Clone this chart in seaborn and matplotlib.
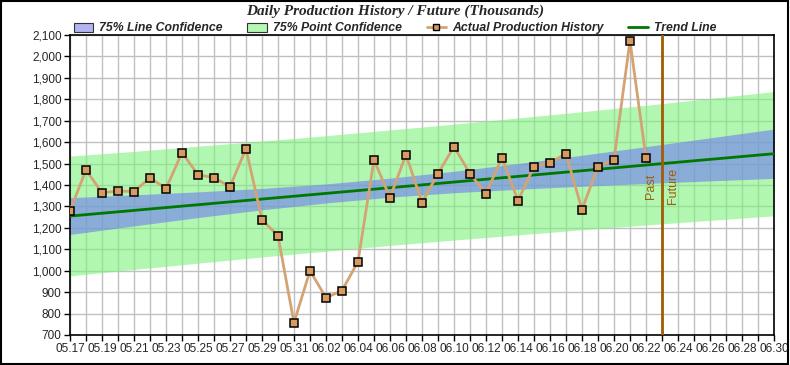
import matplotlib
matplotlib.use('Agg')
import matplotlib.pyplot as plt
from matplotlib.patches import Patch
from matplotlib.lines import Line2D
from matplotlib.ticker import MultipleLocator, FuncFormatter
import seaborn as sns
import pandas as pd

# actual production history, one value per day from 05.17 to 06.22
history_dates = pd.date_range('2024-05-17', '2024-06-22', freq='D')
history_vals = [1280, 1470, 1364, 1372, 1369, 1434, 1383, 1551, 1448, 1434,
                1392, 1569, 1238, 1163, 757, 1000, 874, 907, 1042, 1518,
                1341, 1542, 1318, 1453, 1579, 1453, 1359, 1528, 1327, 1486,
                1504, 1546, 1285, 1486, 1518, 2073, 1527]

# trend line end points
trend_dates = pd.to_datetime(['2024-05-17', '2024-06-30'])
trend_vals = [1255, 1546]

# confidence bands read every 4 days
band_dates = pd.date_range('2024-05-17', '2024-06-30', freq='4D')
line_lo = [1169, 1209, 1248, 1284, 1316, 1343, 1364, 1380, 1394, 1407, 1419, 1431]
line_hi = [1341, 1354, 1368, 1384, 1405, 1432, 1464, 1500, 1539, 1579, 1620, 1661]
point_lo = [976, 1006, 1035, 1064, 1091, 1118, 1143, 1167, 1191, 1213, 1235, 1256]
point_hi = [1535, 1557, 1581, 1605, 1630, 1657, 1684, 1713, 1742, 1772, 1804, 1836]

split_date = pd.Timestamp('2024-06-23')

sns.set_style('white')
plt.rcParams['font.family'] = ['Liberation Sans', 'DejaVu Sans']

fig = plt.figure(figsize=(7.9, 3.65), dpi=100)
ax = fig.add_axes([0.0886, 0.0822, 0.8911, 0.8219])

tan = '#d4a374'
brown = '#a15c06'
dkgreen = '#007800'

ax.grid(True, which='both', color='#c0c0c0', lw=1, zorder=0)
ax.set_axisbelow(True)

# translucent bands so the grid shows through
ax.fill_between(band_dates, point_lo, point_hi, color='#80f37d', alpha=0.6, lw=0, zorder=1)
ax.fill_between(band_dates, line_lo, line_hi, color='#6f7df2', alpha=0.6, lw=0, zorder=2)

sns.lineplot(x=trend_dates, y=trend_vals, ax=ax, color=dkgreen, lw=2, zorder=4)
sns.lineplot(x=history_dates, y=history_vals, ax=ax, color=tan, lw=2,
             marker='s', markersize=6, markerfacecolor='#d79a60',
             markeredgecolor='black', markeredgewidth=1.1, zorder=5)

ax.axvline(split_date, color=brown, lw=2, zorder=4)
ax.text(split_date - pd.Timedelta(hours=7), 1395, 'Past', rotation=90, color=brown,
        fontsize=9, ha='right', va='center')
ax.text(split_date + pd.Timedelta(hours=7), 1395, 'Future', rotation=90, color=brown,
        fontsize=9, ha='left', va='center')

ax.set_xlim(pd.Timestamp('2024-05-17'), pd.Timestamp('2024-06-30'))
ax.set_ylim(700, 2100)
ax.yaxis.set_major_locator(MultipleLocator(100))
ax.yaxis.set_major_formatter(FuncFormatter(lambda v, p: f'{int(v):,}'))
days = pd.date_range('2024-05-17', '2024-06-30', freq='D')
ax.set_xticks(days)
ax.set_xticklabels([d.strftime('%m.%d') if (d.month == 5 and d.day % 2 == 1) or
                    (d.month == 6 and d.day % 2 == 0) else '' for d in days])
ax.tick_params(axis='both', labelsize=8.5, length=4, width=1, color='black',
               direction='out', pad=2, bottom=True, left=True)
ax.set_xlabel('')
ax.set_ylabel('')
for s in ax.spines.values():
    s.set_color('black')
    s.set_linewidth(1.2)

fig.text(0.5, 0.968, 'Daily Production History / Future (Thousands)', ha='center', va='center',
         fontsize=11, fontweight='bold', fontstyle='italic', family='Liberation Serif')

handles = [
    Patch(facecolor='#b4b4f2', edgecolor='#333333', lw=0.8),
    Patch(facecolor='#b4f8b4', edgecolor='#333333', lw=0.8),
    Line2D([], [], color=tan, lw=2, marker='s', markersize=5, markerfacecolor='#d79a60',
           markeredgecolor='black'),
    Line2D([], [], color=dkgreen, lw=2),
]
labels = ['75% Line Confidence', '75% Point Confidence', 'Actual Production History', 'Trend Line']
fig.legend(handles, labels, loc='center', bbox_to_anchor=(0.5, 0.922), ncol=4, frameon=False,
           prop={'size': 8.8, 'weight': 'bold', 'style': 'italic'}, handlelength=1.6,
           handleheight=0.8, handletextpad=0.5, columnspacing=2.0)

fig.patches.append(plt.Rectangle((0.001, 0.002), 0.997, 0.995, transform=fig.transFigure,
                                 fill=False, edgecolor='black', lw=1.5))

fig.savefig('out.png', dpi=100)
